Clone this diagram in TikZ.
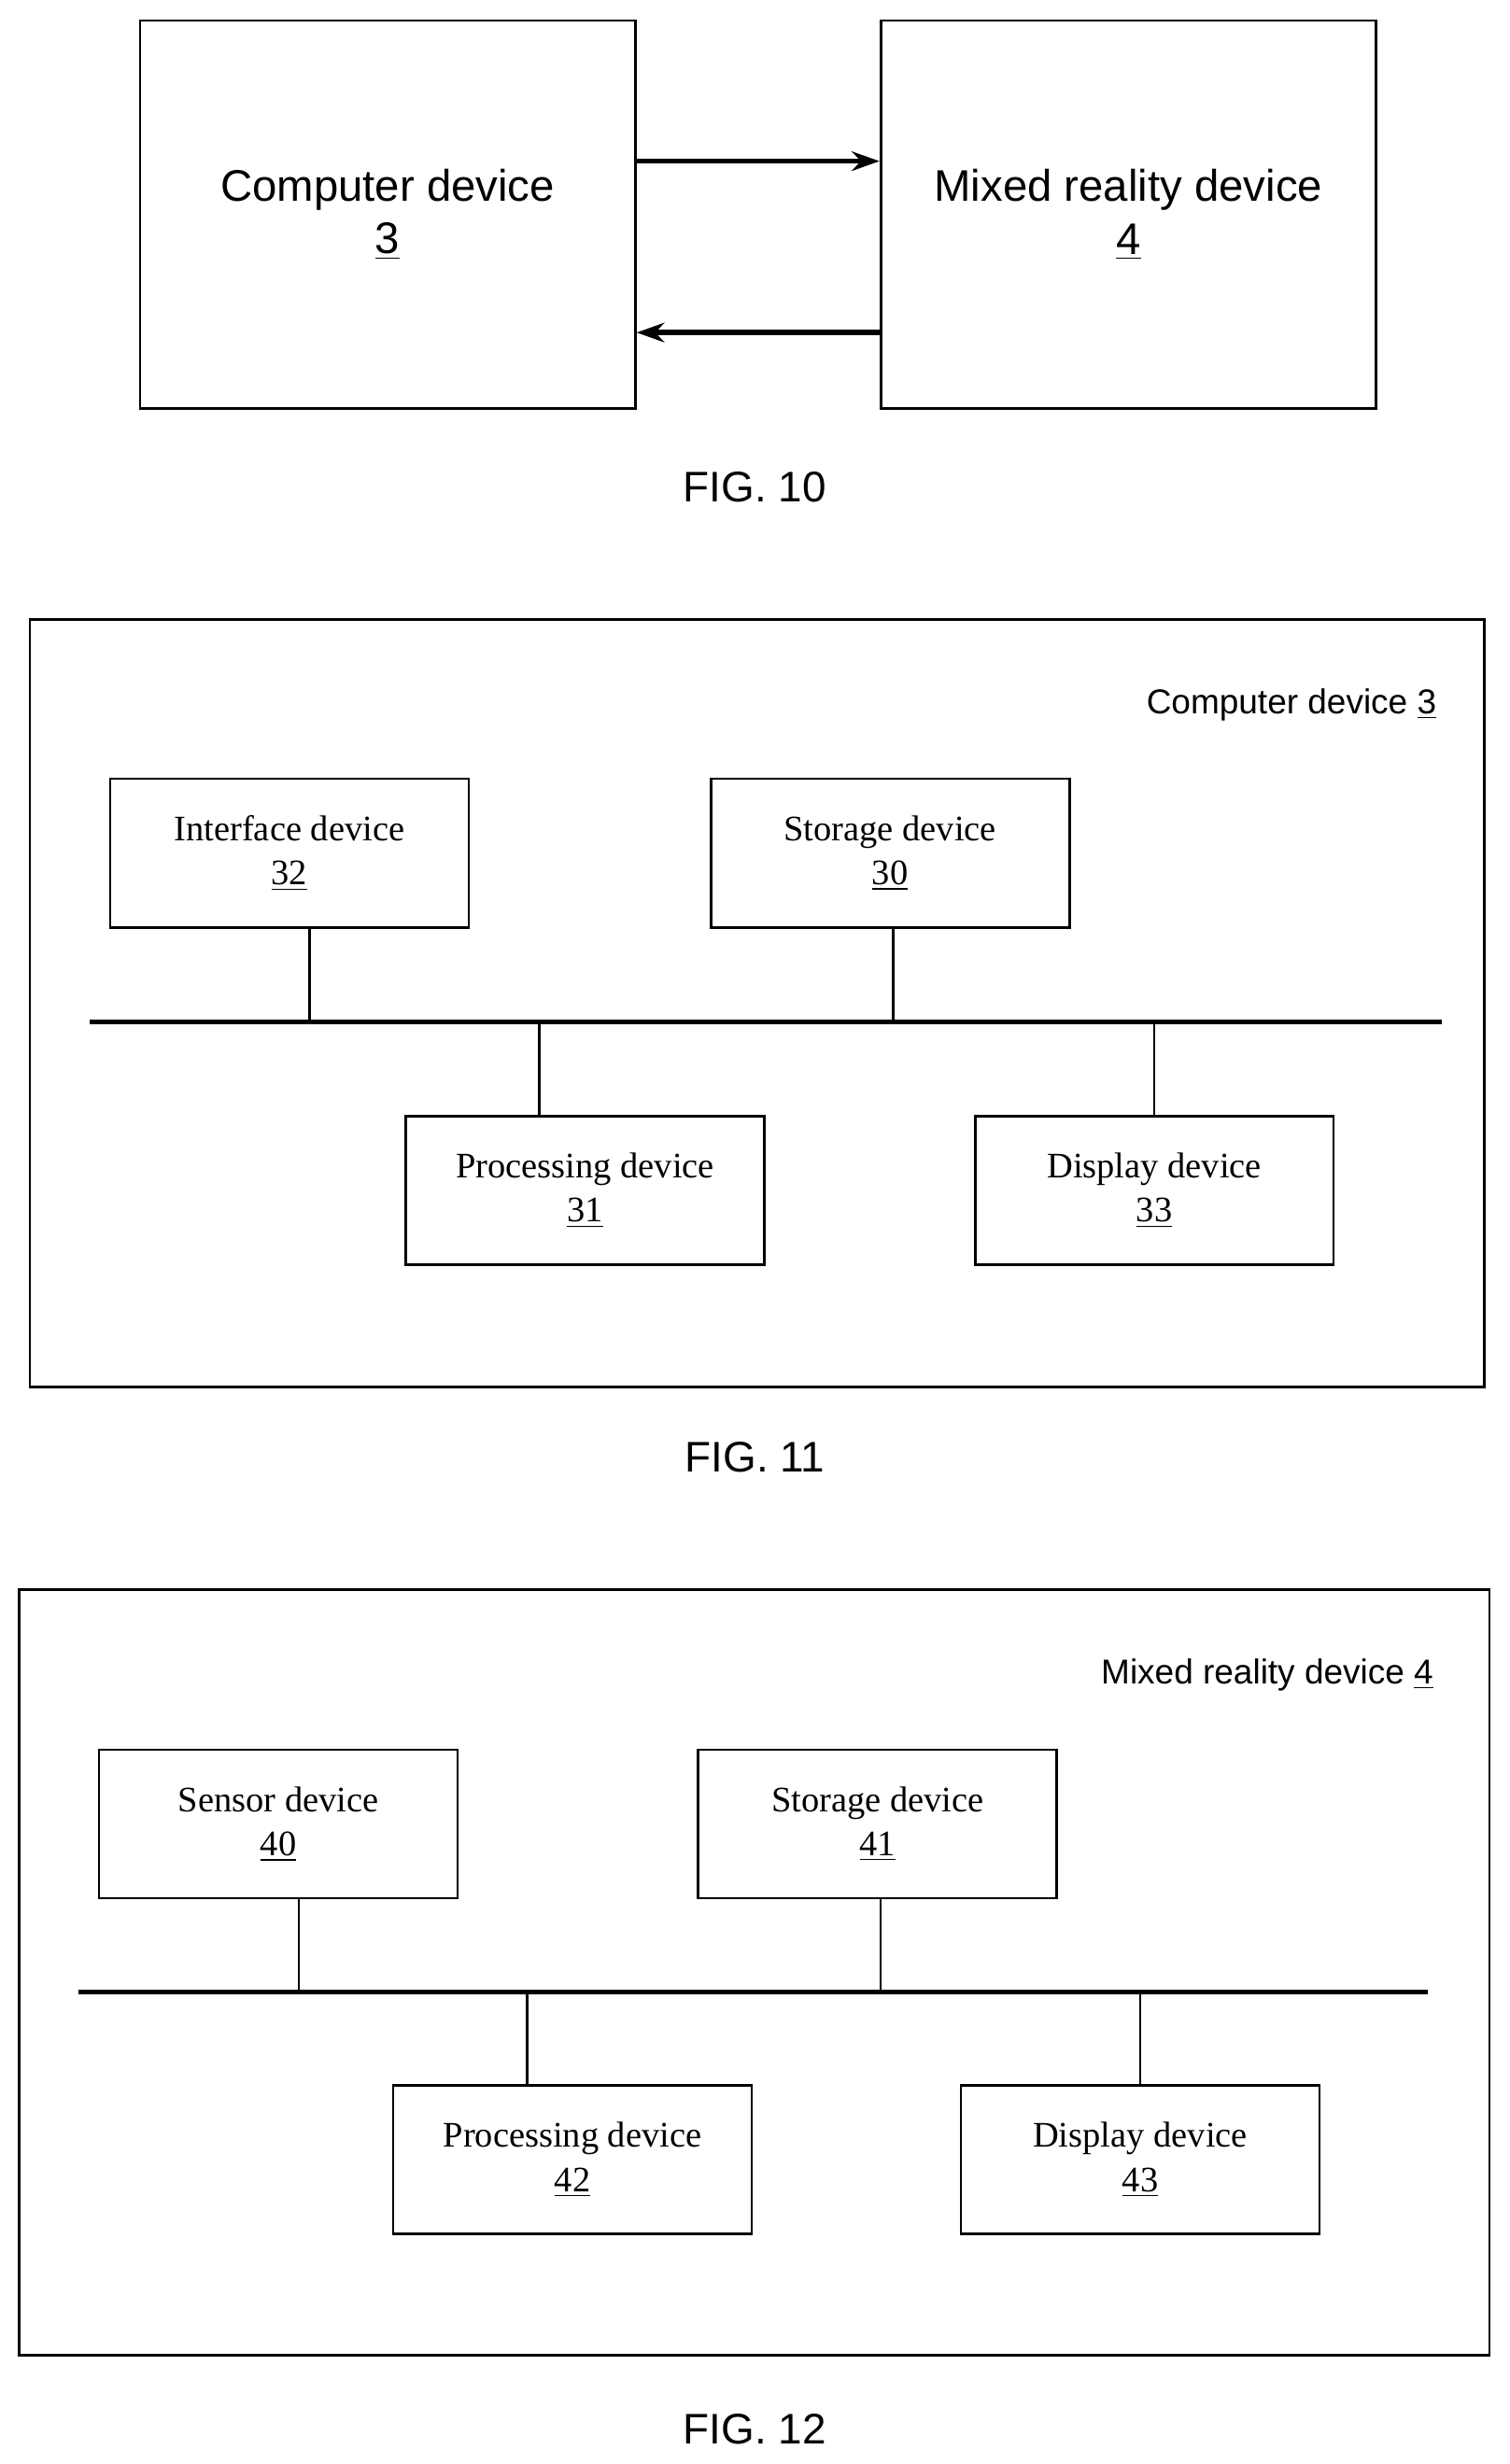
\documentclass[tikz,border=0pt]{standalone}
\usepackage{fontspec}
\setmainfont{Liberation Serif}
\newfontfamily\arialish{Liberation Sans}
\usetikzlibrary{arrows.meta}
\tikzset{every path/.style={black, line width=0.9pt},
  big/.style={draw, minimum width=6.3cm, minimum height=4.94cm, font=\arialish\fontsize{16}{19}\selectfont, align=center},
  part/.style={draw, minimum width=4.56cm, minimum height=1.89cm, font=\fontsize{13}{16}\selectfont, align=center},
  caption/.style={font=\arialish\fontsize{15.5}{18}\selectfont},
  tag/.style={font=\arialish\fontsize{12.5}{14}\selectfont, anchor=east},
  bus/.style={line width=1.8pt}}
\begin{document}
\begin{tikzpicture}[x=0.02cm,y=-0.02cm]
  \useasboundingbox (0,0) rectangle (960,1567);
  % FIG. 10
  \node[big] (cd) at (246.5,136.5) {Computer device\\\underline{3}};
  \node[big] (mr) at (717.5,136.5) {Mixed reality device\\\underline{4}};
  \draw[line width=1.8pt,-{Stealth[length=10pt,width=7pt]}] ([yshift=0.68cm]cd.east) -- ([yshift=0.68cm]mr.west);
  \draw[line width=1.8pt,-{Stealth[length=10pt,width=7pt]}] ([yshift=-1.5cm]mr.west) -- ([yshift=-1.5cm]cd.east);
  \node[caption] (f10) at (480,310) {FIG. 10};
  % FIG. 11
  \draw (19,394) rectangle (944,882);
  \node[tag] (t11) at (920,448) {Computer device \underline{3}};
  \node[part] (p32) at (184,542.5) {Interface device\\\underline{32}};
  \node[part] (p30) at (566,542.5) {Storage device\\\underline{30}};
  \node[part] (p31) at (372,757) {Processing device\\\underline{31}};
  \node[part] (p33) at (734,757) {Display device\\\underline{33}};
  \coordinate (b11a) at (57,650);
  \coordinate (b11b) at (917,650);
  \draw[bus] (b11a) -- (b11b);
  \draw ([xshift=0.26cm]p32.south) -- ([xshift=0.26cm]p32.south |- b11a);
  \draw ([xshift=0.04cm]p30.south) -- ([xshift=0.04cm]p30.south |- b11a);
  \draw ([xshift=-0.58cm]p31.north) -- ([xshift=-0.58cm]p31.north |- b11a);
  \draw (p33.north) -- (p33.north |- b11a);
  \node[caption] (f11) at (480,927) {FIG. 11};
  % FIG. 12
  \draw (12,1011) rectangle (947,1498);
  \node[tag] (t12) at (918,1065) {Mixed reality device \underline{4}};
  \node[part] (p40) at (177,1160) {Sensor device\\\underline{40}};
  \node[part] (p41) at (558,1160) {Storage device\\\underline{41}};
  \node[part] (p42) at (364,1373.5) {Processing device\\\underline{42}};
  \node[part] (p43) at (725,1373.5) {Display device\\\underline{43}};
  \coordinate (b12a) at (50,1267);
  \coordinate (b12b) at (908,1267);
  \draw[bus] (b12a) -- (b12b);
  \draw ([xshift=0.26cm]p40.south) -- ([xshift=0.26cm]p40.south |- b12a);
  \draw ([xshift=0.04cm]p41.south) -- ([xshift=0.04cm]p41.south |- b12a);
  \draw ([xshift=-0.58cm]p42.north) -- ([xshift=-0.58cm]p42.north |- b12a);
  \draw (p43.north) -- (p43.north |- b12a);
  \node[caption] (f12) at (480,1545) {FIG. 12};
\end{tikzpicture}
\end{document}
